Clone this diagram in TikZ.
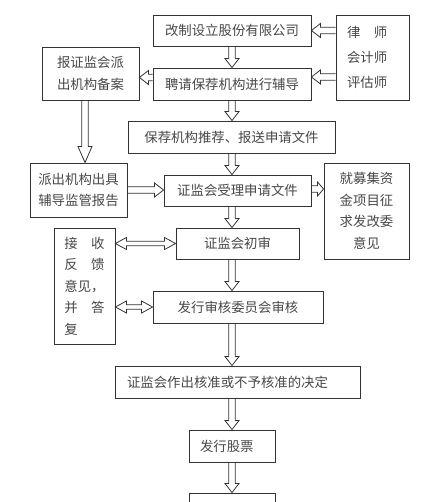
\documentclass[tikz,border=0pt]{standalone}
\usepackage{fontspec}
\newfontfamily\cjk{Noto Sans CJK SC}
\usetikzlibrary{calc}

\tikzset{
  procbox/.style  = {shape=rectangle, draw=black!80, line width=0.9pt,
                     align=center, inner sep=0pt, text=black!72,
                     font=\cjk\fontsize{13.4}{21.5}\selectfont},
  arr shaft/.store in = \arrshaft, arr shaft = 3.2pt,
  arr width/.store in = \arrwidth, arr width = 7pt,
  arr head/.store in  = \arrhead,  arr head  = 9pt,
  arrframe/.style = {shift={(\p1)}, rotate=\n1},
  hollow/.style   = {draw=black!80, line width=0.8pt,
    to path={let \p1=(\tikztostart), \p2=(\tikztotarget),
      \n1={atan2(\y2-\y1,\x2-\x1)}, \n2={veclen(\x2-\x1,\y2-\y1)} in
      ([arrframe]0pt,\arrshaft) -- ([arrframe]\n2-\arrhead,\arrshaft)
      -- ([arrframe]\n2-\arrhead,\arrwidth) -- ([arrframe]\n2,0pt)
      -- ([arrframe]\n2-\arrhead,-\arrwidth) -- ([arrframe]\n2-\arrhead,-\arrshaft)
      -- ([arrframe]0pt,-\arrshaft)}},
  hollow both/.style = {hollow, arr shaft=2.3pt, arr width=6pt, arr head=11pt,
    to path={let \p1=(\tikztostart), \p2=(\tikztotarget),
      \n1={atan2(\y2-\y1,\x2-\x1)}, \n2={veclen(\x2-\x1,\y2-\y1)} in
      ([arrframe]0pt,0pt) -- ([arrframe]\arrhead,\arrwidth) -- ([arrframe]\arrhead,\arrshaft)
      -- ([arrframe]\n2-\arrhead,\arrshaft) -- ([arrframe]\n2-\arrhead,\arrwidth)
      -- ([arrframe]\n2,0pt) -- ([arrframe]\n2-\arrhead,-\arrwidth)
      -- ([arrframe]\n2-\arrhead,-\arrshaft) -- ([arrframe]\arrhead,-\arrshaft)
      -- ([arrframe]\arrhead,-\arrwidth) -- cycle}}
}

\begin{document}
\begin{tikzpicture}[x=1pt, y=-1pt]
\useasboundingbox (0,0) rectangle (431,502);
\clip (0,0) rectangle (431,502);
\coordinate (spine) at (232,0);

\node[procbox, minimum width=158, minimum height=31] (corp) at (232,30.5) {改制设立股份有限公司};
\node[procbox, minimum width=73, minimum height=85, text width=51, align=left,
      font=\cjk\fontsize{13.4}{25}\selectfont] (law) at (372.5,57.5) {律　师\\会计师\\评估师};
\node[procbox, minimum width=97, minimum height=53] (record) at (90.5,73.5) {报证监会派\\出机构备案};
\node[procbox, minimum width=158, minimum height=32] (tutor) at (232,84) {聘请保荐机构进行辅导};
\node[procbox, minimum width=207, minimum height=32] (recommend) at (231.5,137) {保荐机构推荐、报送申请文件};
\node[procbox, minimum width=97, minimum height=54] (report) at (78.5,190) {派出机构出具\\辅导监管报告};
\node[procbox, minimum width=147, minimum height=31] (accept) at (237.5,190.5) {证监会受理申请文件};
\node[procbox, minimum width=85, minimum height=96] (ndrc) at (366.5,211) {就募集资\\金项目征\\求发改委\\意见};
\node[procbox, minimum width=61, minimum height=116, align=left] (feedback) at (84.5,286) {接　收\\反　馈\\意见，\\并　答\\复};
\node[procbox, minimum width=123, minimum height=31] (review) at (237.5,243.5) {证监会初审};
\node[procbox, minimum width=170, minimum height=32] (committee) at (238,307) {发行审核委员会审核};
\node[procbox, minimum width=245, minimum height=32, text width=221, align=left] (decision) at (237.5,382) {证监会作出核准或不予核准的决定};
\node[procbox, minimum width=86, minimum height=32, text width=64, align=left] (issue) at (232,446) {发行股票};
\node[procbox, minimum width=86, minimum height=32] (next) at (232,509) {};

\draw[hollow] (corp.south) to (tutor.north);
\draw[hollow] (tutor.south) to (tutor.south |- recommend.north);
\draw[hollow] (spine |- recommend.south) to (spine |- accept.north);
\draw[hollow] (spine |- accept.south) to (spine |- review.north);
\draw[hollow] (spine |- review.south) to (spine |- committee.north);
\draw[hollow] (spine |- committee.south) to (spine |- decision.north);
\draw[hollow] (spine |- decision.south) to (spine |- issue.north);
\draw[hollow] (issue.south) to (next.north);
\draw[hollow] (law.west |- corp.east) to (corp.east);
\draw[hollow] (law.west |- 0,77) to (tutor.east |- 0,77);
\draw[hollow] (tutor.west |- 0,77.5) to (record.east |- 0,77.5);
\draw[hollow, arr head=16pt] ([xshift=-5.5]record.south) to ([xshift=-5.5]record.south |- report.north);
\draw[hollow] (report.east) to (report.east -| accept.west);
\draw[hollow, arr head=6pt] (accept.east |- 0,189) to (ndrc.west |- 0,189);
\draw[hollow both] (feedback.east |- review.west) to (review.west);
\draw[hollow both] (feedback.east |- committee.west) to (committee.west);
\end{tikzpicture}
\end{document}
